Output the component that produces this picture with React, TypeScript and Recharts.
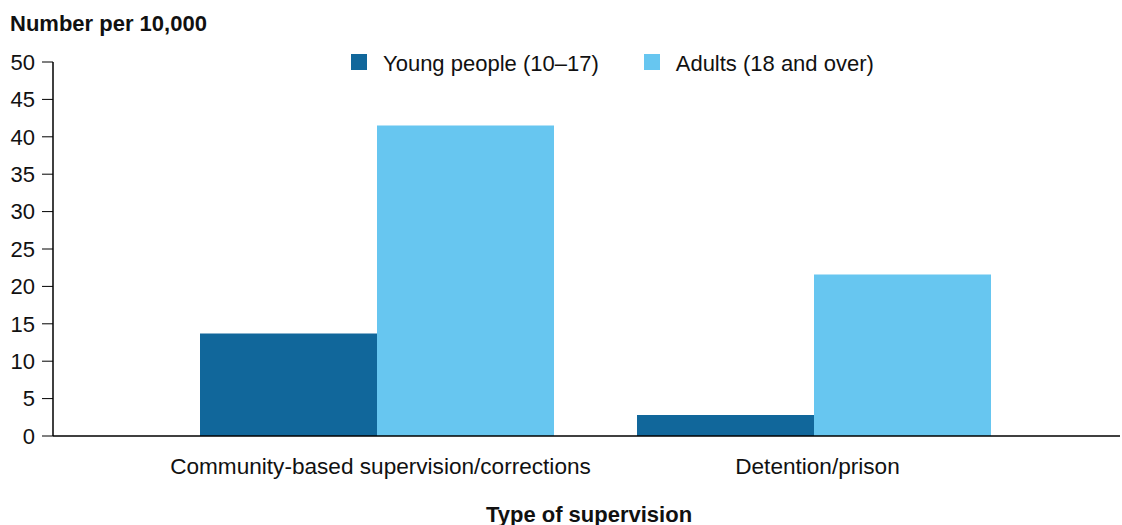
import { BarChart, Bar, XAxis, YAxis } from "recharts";

const categories = ["Community-based supervision/corrections", "Detention/prison"];
const youngPeople = [13.7, 2.8];
const adults = [41.5, 21.6];
const yTicks = [0, 5, 10, 15, 20, 25, 30, 35, 40, 45, 50];

const series = [
  { key: "young", name: "Young people (10\u201317)", color: "#11679B" },
  { key: "adults", name: "Adults (18 and over)", color: "#67C6F0" },
];

const data = categories.map((name, i) => ({
  name,
  young: youngPeople[i],
  adults: adults[i],
}));

const font = "'Liberation Sans', Arial, sans-serif";

function LegendBox() {
  return (
    <div
      style={{
        position: "absolute",
        left: 351,
        top: 51,
        display: "flex",
        fontFamily: font,
        fontSize: 22,
        lineHeight: "22px",
        color: "#111",
      }}
    >
      {series.map((s, i) => (
        <div
          key={s.key}
          style={{ display: "flex", alignItems: "center", marginRight: i === 0 ? 45 : 0 }}
        >
          <span
            style={{ width: 16, height: 16, background: s.color, display: "inline-block", marginRight: 16 }}
          />
          <span style={{ position: "relative", top: 2 }}>{s.name}</span>
        </div>
      ))}
    </div>
  );
}

export default function App() {
  return (
    <div style={{ position: "absolute", left: 0, top: 0, width: 1122, height: 525, background: "#fff" }}>
      <div
        style={{
          position: "absolute",
          left: 10,
          top: 13,
          fontFamily: font,
          fontWeight: "bold",
          fontSize: 22,
          lineHeight: "22px",
          color: "#111",
        }}
      >
        Number per 10,000
      </div>
      <LegendBox />
      <BarChart
        width={1122}
        height={525}
        data={data}
        margin={{ top: 62, right: 2, bottom: 59, left: 0 }}
        barGap={0}
        barCategoryGap={42}
      >
        <XAxis
          dataKey="name"
          padding={{ left: 105, right: 88 }}
          tickLine={false}
          axisLine={{ stroke: "#000", strokeWidth: 1.5 }}
          tick={{ fill: "#111", fontSize: 22.6, fontFamily: font, dx: 4 }}
          tickMargin={16}
          interval={0}
        />
        <YAxis
          width={53}
          domain={[0, 50]}
          ticks={yTicks}
          interval={0}
          tickSize={11}
          tickLine={{ stroke: "#000" }}
          axisLine={{ stroke: "#000", strokeWidth: 1.5 }}
          tick={{ fill: "#111", fontSize: 22, fontFamily: font }}
          tickMargin={7}
        />
        {series.map((s) => (
          <Bar key={s.key} dataKey={s.key} name={s.name} fill={s.color} isAnimationActive={false} />
        ))}
      </BarChart>
      <div
        style={{
          position: "absolute",
          left: 0,
          width: 1178,
          top: 504,
          textAlign: "center",
          fontFamily: font,
          fontWeight: "bold",
          fontSize: 22,
          lineHeight: "22px",
          color: "#111",
        }}
      >
        Type of supervision
      </div>
    </div>
  );
}
